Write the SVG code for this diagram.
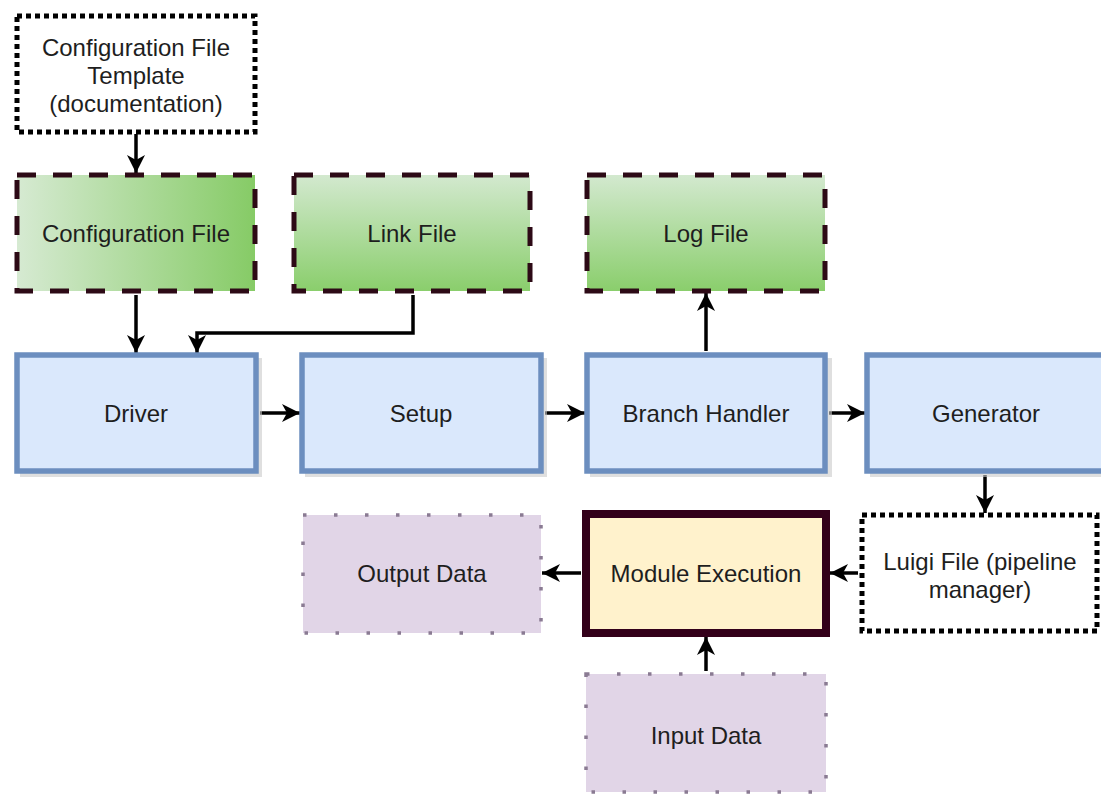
<svg xmlns="http://www.w3.org/2000/svg" width="1101" height="795" viewBox="0 0 1101 795">
  <defs>
    <linearGradient id="greenH" x1="0" y1="0" x2="1" y2="0">
      <stop offset="0" stop-color="#d6ead2"/>
      <stop offset="1" stop-color="#86cb66"/>
    </linearGradient>
    <linearGradient id="greenV" x1="0" y1="0" x2="0" y2="1">
      <stop offset="0" stop-color="#d3e9cf"/>
      <stop offset="1" stop-color="#8ace6c"/>
    </linearGradient>
    <marker id="arrow" markerUnits="userSpaceOnUse" markerWidth="20" markerHeight="20" refX="18" refY="9" orient="auto" overflow="visible">
      <path d="M0,0 L18,9 L0,18 L5,9 Z" fill="#000"/>
    </marker>
    <style>
      text { font-family: "Liberation Sans", Arial, Helvetica, sans-serif; font-size: 24px; fill: #1e1e1e; text-anchor: middle; }
      .note { fill: #fff; stroke: #000; stroke-width: 5; stroke-dasharray: 5 4; }
      .file { stroke: #2d0a16; stroke-width: 5; stroke-dasharray: 19 17; }
      .proc { fill: #dae8fc; stroke: #6c8ebf; stroke-width: 5.5; }
      .shadow { fill: #c9c9c9; opacity: 0.6; }
      .data { fill: #e1d5e7; stroke: #8a7b93; stroke-width: 3.5; stroke-dasharray: 3.5 27.5; }
      .core { fill: #fff2cc; stroke: #33001a; stroke-width: 8; }
      .edge { fill: none; stroke: #000; stroke-width: 3.5; marker-end: url(#arrow); }
    </style>
  </defs>

  <rect width="1101" height="795" fill="#fff"/>

  <!-- connectors -->
  <g id="connectors">
    <path class="edge" d="M136,134 V173"/>
    <path class="edge" d="M136,295 V353"/>
    <path class="edge" d="M413,295 V333 H197 V353"/>
    <path class="edge" d="M260,413 H300"/>
    <path class="edge" d="M545,413 H585"/>
    <path class="edge" d="M829,413 H865"/>
    <path class="edge" d="M706,351 V293"/>
    <path class="edge" d="M985,475 V513"/>
    <path class="edge" d="M858,573 H830"/>
    <path class="edge" d="M581,573 H542"/>
    <path class="edge" d="M706,671 V637"/>
  </g>

  <!-- nodes -->
  <g id="config-template">
    <rect class="note" x="17" y="16" width="238" height="116"/>
    <text x="136" y="56">Configuration File</text>
    <text x="136" y="84">Template</text>
    <text x="136" y="112">(documentation)</text>
  </g>

  <g id="config-file">
    <rect class="file" x="17" y="175" width="238" height="116" fill="url(#greenH)"/>
    <text x="136" y="242">Configuration File</text>
  </g>

  <g id="link-file">
    <rect class="file" x="294" y="175" width="236" height="116" fill="url(#greenV)"/>
    <text x="412" y="242">Link File</text>
  </g>

  <g id="log-file">
    <rect class="file" x="587" y="175" width="238" height="116" fill="url(#greenV)"/>
    <text x="706" y="242">Log File</text>
  </g>

  <g id="driver">
    <rect class="shadow" x="20" y="358" width="242" height="119"/>
    <rect class="proc" x="17" y="355" width="239" height="116"/>
    <text x="136" y="422">Driver</text>
  </g>

  <g id="setup">
    <rect class="shadow" x="305" y="358" width="242" height="119"/>
    <rect class="proc" x="302" y="355" width="239" height="116"/>
    <text x="421" y="422">Setup</text>
  </g>

  <g id="branch-handler">
    <rect class="shadow" x="590" y="358" width="242" height="119"/>
    <rect class="proc" x="587" y="355" width="238" height="116"/>
    <text x="706" y="422">Branch Handler</text>
  </g>

  <g id="generator">
    <rect class="shadow" x="870" y="358" width="242" height="119"/>
    <rect class="proc" x="867" y="355" width="240" height="116"/>
    <text x="986" y="422">Generator</text>
  </g>

  <g id="luigi-file">
    <rect class="note" x="862" y="515" width="235" height="116"/>
    <text x="980" y="570">Luigi File (pipeline</text>
    <text x="980" y="598">manager)</text>
  </g>

  <g id="module-execution">
    <rect class="core" x="586" y="514" width="240" height="119"/>
    <text x="706" y="582">Module Execution</text>
  </g>

  <g id="output-data">
    <rect class="data" x="303" y="515" width="238" height="118"/>
    <text x="422" y="582">Output Data</text>
  </g>

  <g id="input-data">
    <rect class="data" x="586" y="674" width="240" height="118"/>
    <text x="706" y="744">Input Data</text>
  </g>
</svg>
